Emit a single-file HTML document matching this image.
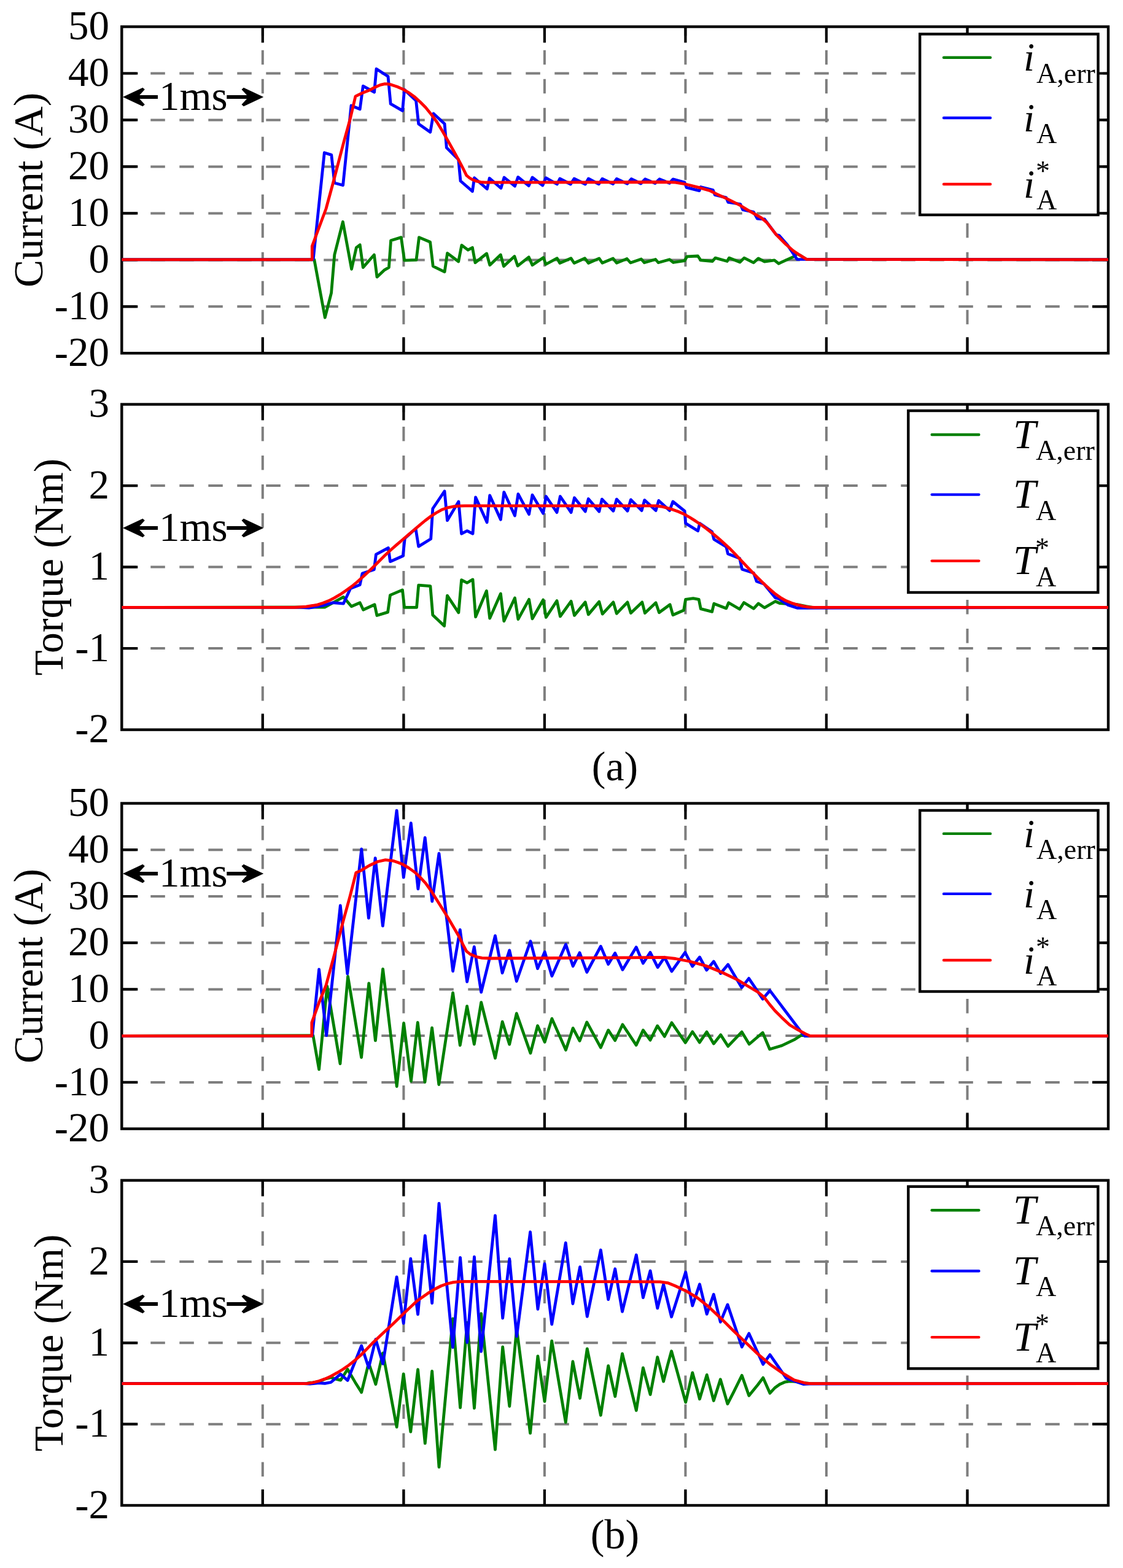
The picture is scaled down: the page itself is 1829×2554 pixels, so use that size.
<!DOCTYPE html><html><head><meta charset="utf-8"><title>Current and torque waveforms</title><style>html,body{margin:0;padding:0;background:#fff;}svg{display:block;}text{font-family:"Liberation Serif", "Times New Roman", serif;}</style></head><body>
<svg xmlns="http://www.w3.org/2000/svg" width="1829" height="2554" viewBox="0 0 1829 2554">
<rect x="0" y="0" width="1829" height="2554" fill="#fff"/>
<path d="M198.3 119.5H1805M198.3 195.4H1805M198.3 271.4H1805M198.3 347.4H1805M198.3 423.4H1805M198.3 499.3H1805" stroke="#7e7e7e" stroke-width="4.0" stroke-dasharray="23.5 23.5" fill="none"/>
<path d="M427.8 575.3V43.5M657.4 575.3V43.5M886.9 575.3V43.5M1116.4 575.3V43.5M1345.9 575.3V43.5M1575.5 575.3V43.5" stroke="#7e7e7e" stroke-width="4.0" stroke-dasharray="23.5 23.5" fill="none"/>
<path d="M198.3 119.5h26M1805 119.5h-26M198.3 195.4h26M1805 195.4h-26M198.3 271.4h26M1805 271.4h-26M198.3 347.4h26M1805 347.4h-26M198.3 423.4h26M1805 423.4h-26M198.3 499.3h26M1805 499.3h-26M427.8 43.5v26M427.8 575.3v-26M657.4 43.5v26M657.4 575.3v-26M886.9 43.5v26M886.9 575.3v-26M1116.4 43.5v26M1116.4 575.3v-26M1345.9 43.5v26M1345.9 575.3v-26M1575.5 43.5v26M1575.5 575.3v-26" stroke="#000" stroke-width="4.2" fill="none"/>
<rect x="198.3" y="43.5" width="1606.7" height="531.8" fill="none" stroke="#000" stroke-width="4.4"/>
<polyline points="198.3,422.8 511.8,422.8 529.3,517.2 539.6,477.1 544.8,415 558.4,361.3 572.6,438.3 580.3,403.4 586.2,398.8 591.3,435.7 609.4,415 614,451.2 625.6,440.2 633.4,435.7 636.6,391.7 653.4,386.6 658.6,424.1 678,423.4 682.5,386.6 700.6,394.3 705.3,433.7 724.1,442.8 728.6,412.4 746.7,426 751.9,399.4 762.2,407.2 769.4,403.3 773.9,427.9 792.6,413 797.8,431.8 815.3,415 820.4,433.7 837.9,417.5 843.1,433.1 861.2,418.8 867,431.8 885.1,419.5 889,430.5 907.3,420.7 911.8,428.5 929.9,420.7 935.1,428.5 952.5,420.7 958.4,428.5 975.8,420.9 981,428.3 998.5,421 1004.3,428.2 1021.1,421.5 1026.9,428 1044.4,422 1049.5,427.8 1067.6,422.5 1072.2,427.8 1090.3,422.7 1096.7,427.5 1115,424.7 1118.9,417.8 1136.6,417 1141.2,423.9 1160.4,425.5 1165,420.1 1184.3,425.5 1187.4,420.1 1205.1,427 1212,420.1 1227.4,427.8 1235.1,420.9 1245.1,426.2 1261.3,423.9 1268.2,429.3 1292,418.4 1298.2,413.3 1305,416.9 1313.6,422.6 1805,422.8" fill="none" stroke="#008000" stroke-width="4.8" stroke-linejoin="round"/>
<polyline points="198.3,422.8 509.5,422.8 510.3,421.5 528.3,248.7 539.8,252.4 544.8,298 558.6,301.7 572,172 586.2,177.8 591.3,140.2 609.6,150.2 613,112.2 632,124.5 636.2,169.2 655.6,180.4 658.6,146 677.6,164 681.7,201.8 700.8,215.2 706,184.9 724.1,201.7 727.3,240.5 746.7,259.9 750,294.8 769.4,311.6 772.6,289.7 793.3,307.8 797.2,290.3 815.9,306.5 821.1,289 838.5,303.2 843.7,288.4 861.2,302.6 867,289 883.8,302 889,289.7 907.3,300 911.8,291 929.3,300 935.1,291 953.2,300 958.4,291 975.2,299.8 981,291.2 998.4,299.6 1004.3,291.3 1021.7,299.3 1028.2,291.5 1043.7,299 1050.8,291.6 1067,298.6 1074.1,291.8 1090.3,298.3 1096.1,291.8 1115,297 1118.1,305.4 1138.9,310.6 1141.2,304.5 1161.2,309.5 1164.3,317.3 1182.7,321.8 1185.8,329.3 1205.8,332.5 1209.7,341.6 1227.4,345.4 1233.5,356.2 1245.1,357 1264.3,382.4 1269,383.5 1282.8,399.3 1298.2,422.4 1805,422.8" fill="none" stroke="#0000ff" stroke-width="4.8" stroke-linejoin="round"/>
<polyline points="198.3,422.8 508.3,422.8 508.3,401 531,340 543,296 560,231 570,195 579,156.8 590,151.5 600.8,147.3 610,142.5 619.3,138.4 626.7,136.6 632,136.8 637.8,138.2 647,141.3 656.3,145.4 665.5,150.8 674.7,157.4 684,165.7 693.2,175 702.5,186.5 711.7,199 721,214.3 730.2,230.4 739.4,247 748.6,263.7 754,274 759.7,285.6 765,290 770,292.8 776.3,295.2 783,296.6 790,297.2 800,297.2 1000,296.8 1085,296.5 1100,297.2 1116.6,300 1138.1,305.4 1156.6,310.8 1167.4,316.2 1184.3,323.9 1205.8,334.7 1218.2,342.4 1239.7,354.7 1248.9,362.4 1264.3,382.4 1279.7,397.8 1292,408.5 1301.3,414.7 1313.6,422.4 1805,422.8" fill="none" stroke="#ff0000" stroke-width="4.8" stroke-linejoin="round"/>
<text x="178" y="64.2" font-size="67" text-anchor="end">50</text>
<text x="178" y="140.2" font-size="67" text-anchor="end">40</text>
<text x="178" y="216.1" font-size="67" text-anchor="end">30</text>
<text x="178" y="292.1" font-size="67" text-anchor="end">20</text>
<text x="178" y="368.1" font-size="67" text-anchor="end">10</text>
<text x="178" y="444.1" font-size="67" text-anchor="end">0</text>
<text x="178" y="520" font-size="67" text-anchor="end">-10</text>
<text x="178" y="596" font-size="67" text-anchor="end">-20</text>
<text x="0" y="0" font-size="67.6" text-anchor="middle" transform="translate(68.8 309.4) rotate(-90)">Current (A)</text>
<path d="M200 158 L232.5 142.8 L235.8 145.7 L227.3 155.1 L257 155.1 L257 160.9 L227.3 160.9 L235.8 170.3 L232.5 173.2 Z" fill="#000"/>
<path d="M429.3 158 L396.8 142.8 L393.5 145.7 L402 155.1 L369.3 155.1 L369.3 160.9 L402 160.9 L393.5 170.3 L396.8 173.2 Z" fill="#000"/>
<text x="259" y="179" font-size="67">1ms</text>
<rect x="1498.2" y="55.5" width="290.3" height="294.5" fill="#fff" stroke="#000" stroke-width="4.4"/>
<line x1="1537" y1="93.7" x2="1613" y2="93.7" stroke="#008000" stroke-width="4.4" stroke-linecap="round"/>
<text x="1667" y="115.3" font-size="65" font-style="italic">i</text>
<text x="1688" y="134.7" font-size="46">A,err</text>
<line x1="1537" y1="192" x2="1613" y2="192" stroke="#0000ff" stroke-width="4.4" stroke-linecap="round"/>
<text x="1667" y="213.6" font-size="65" font-style="italic">i</text>
<text x="1688" y="233" font-size="46">A</text>
<line x1="1537" y1="300" x2="1613" y2="300" stroke="#ff0000" stroke-width="4.4" stroke-linecap="round"/>
<text x="1667" y="321.6" font-size="65" font-style="italic">i</text>
<text x="1688" y="341" font-size="46">A</text>
<text x="1687" y="294.1" font-size="46">*</text>
<path d="M198.3 791.1H1805M198.3 923.6H1805M198.3 1056.1H1805" stroke="#7e7e7e" stroke-width="4.0" stroke-dasharray="23.5 23.5" fill="none"/>
<path d="M427.8 1188.6V658.6M657.4 1188.6V658.6M886.9 1188.6V658.6M1116.4 1188.6V658.6M1345.9 1188.6V658.6M1575.5 1188.6V658.6" stroke="#7e7e7e" stroke-width="4.0" stroke-dasharray="23.5 23.5" fill="none"/>
<path d="M198.3 791.1h26M1805 791.1h-26M198.3 923.6h26M1805 923.6h-26M198.3 1056.1h26M1805 1056.1h-26M427.8 658.6v26M427.8 1188.6v-26M657.4 658.6v26M657.4 1188.6v-26M886.9 658.6v26M886.9 1188.6v-26M1116.4 658.6v26M1116.4 1188.6v-26M1345.9 658.6v26M1345.9 1188.6v-26M1575.5 658.6v26M1575.5 1188.6v-26" stroke="#000" stroke-width="4.2" fill="none"/>
<rect x="198.3" y="658.6" width="1606.7" height="530" fill="none" stroke="#000" stroke-width="4.4"/>
<polyline points="198.3,989.4 529.3,989 559.3,972.4 572.4,987.8 586.2,981.7 591.6,993.2 610.1,984.8 613.9,1002.5 631.6,997.1 635.5,969.4 655.5,960.9 658.6,989.4 678.6,989.4 681.7,953.2 700.9,954.7 704.8,1001.7 723.6,1019.5 728.5,970.1 746.9,997.8 751.6,944.7 760.8,949.3 770,943.9 774.6,1004.8 792.4,962.4 797.7,1007.1 815.4,967 820.8,1011.7 838.5,974 843.9,1008.6 861.6,976.3 867,1007.8 884.7,977 889.3,1005.5 907,978.6 912.4,1004 930.1,979.4 935.5,1002.4 953.2,980.9 958.3,1000.9 975.8,980.1 981.2,1000.1 998.9,980.9 1004.3,999.4 1022,980.9 1027.4,998.6 1045.8,980.9 1050.4,998.6 1068.1,981.7 1073.5,997.8 1091.2,984.8 1095.9,1001.7 1113.6,994 1116.6,976.3 1129,974.7 1138.2,976.3 1141.3,991.7 1159.7,996.3 1162.8,983.2 1182.8,990.9 1186.7,981.7 1204.7,992.3 1211.6,981.5 1227.4,991.3 1235.2,983 1245.1,989.9 1262.8,979.5 1269.7,982.5 1283.5,983.5 1298.3,984.6 1313,987.6 1323,989.4 1805,989.4" fill="none" stroke="#008000" stroke-width="4.8" stroke-linejoin="round"/>
<polyline points="198.3,989.4 490,989.4 503.1,990.1 526.2,986.3 541.6,981.7 559.3,983.2 570.8,958.6 586.2,952.4 590.1,934 609.3,927.8 612.4,903.2 632.4,892.4 635.5,914.7 656.3,905.5 659.3,877 677,861 681.7,890.1 701.7,877.8 704.8,828.5 724,800 728.5,847.7 746.9,817 751.6,869.3 760.8,864.7 770,869.3 774.6,810 793.1,850.8 797.7,806.9 815.4,846.2 820.8,801.6 838.5,840 843.9,804.6 861.6,837.7 867,806.2 884.7,836.2 889.3,808.5 907,834.6 912.4,808.5 930.1,834.6 935.5,810.8 953.2,833.1 958.3,812.5 975.8,833.1 980.4,813.1 998.9,832.3 1004.3,813.1 1022,832.3 1027.4,813.9 1045.1,831.6 1049.7,814.6 1068.1,831.6 1072.8,815.4 1090.5,831.6 1095.9,817 1115.1,832.3 1116.6,852.4 1136.7,864.7 1139.7,852.4 1159.7,866.2 1162.8,878.5 1182.8,890.8 1185.5,902 1204.7,909.6 1208.6,927.3 1227.4,933.2 1232.3,947 1244.1,950.9 1262.8,973.6 1268.7,975.6 1283.5,985.4 1298.3,990.3 1313.1,990.3 1805,989.4" fill="none" stroke="#0000ff" stroke-width="4.8" stroke-linejoin="round"/>
<polyline points="198.3,989.4 480,989.4 498.5,988.2 517,985.1 526,982.3 535.4,978.6 544.6,973.9 553.9,968.4 563,962.3 572.4,955.5 581.6,948 590.8,939.8 600,931.2 609.3,922.3 618.5,913 627.8,903.8 637,895.3 646.3,887.1 655.5,879.2 664.7,871.4 674,863.5 683.2,855.7 692.4,848 701.7,841 711,835 720.2,829.9 729.4,826.8 738.6,825 748,824.1 757.1,823.8 1068,823.8 1077,825 1086,827.2 1095.4,829.9 1104.6,833.3 1113.9,837.3 1123,842.5 1132.4,848.4 1141.6,854.6 1150.8,861.3 1160,868.5 1169.3,876.1 1178.5,884.2 1187.8,892.7 1197,902.2 1206.3,912.1 1215.5,921.9 1224.7,931.5 1234,940.9 1243.2,950 1252.4,958.6 1261.7,966.6 1271,973.2 1280.2,978.6 1289.4,982.3 1298.6,985.1 1308,987.3 1317.1,988.8 1326,989.4 1805,989.4" fill="none" stroke="#ff0000" stroke-width="4.8" stroke-linejoin="round"/>
<text x="178" y="679.3" font-size="67" text-anchor="end">3</text>
<text x="178" y="811.8" font-size="67" text-anchor="end">2</text>
<text x="178" y="944.3" font-size="67" text-anchor="end">1</text>
<text x="178" y="1076.8" font-size="67" text-anchor="end">-1</text>
<text x="178" y="1209.3" font-size="67" text-anchor="end">-2</text>
<text x="0" y="0" font-size="67.6" text-anchor="middle" transform="translate(102 923.6) rotate(-90)">Torque (Nm)</text>
<path d="M200 860 L232.5 844.8 L235.8 847.7 L227.3 857.1 L257 857.1 L257 862.9 L227.3 862.9 L235.8 872.3 L232.5 875.2 Z" fill="#000"/>
<path d="M429.3 860 L396.8 844.8 L393.5 847.7 L402 857.1 L369.3 857.1 L369.3 862.9 L402 862.9 L393.5 872.3 L396.8 875.2 Z" fill="#000"/>
<text x="259" y="881" font-size="67">1ms</text>
<rect x="1479.3" y="669" width="309" height="296" fill="#fff" stroke="#000" stroke-width="4.4"/>
<line x1="1517.7" y1="708" x2="1594.3" y2="708" stroke="#008000" stroke-width="4.4" stroke-linecap="round"/>
<text x="1650" y="729.6" font-size="67" font-style="italic">T</text>
<text x="1687" y="749" font-size="46">A,err</text>
<line x1="1517.7" y1="805.6" x2="1594.3" y2="805.6" stroke="#0000ff" stroke-width="4.4" stroke-linecap="round"/>
<text x="1650" y="827.2" font-size="67" font-style="italic">T</text>
<text x="1687" y="846.6" font-size="46">A</text>
<line x1="1517.7" y1="913.6" x2="1594.3" y2="913.6" stroke="#ff0000" stroke-width="4.4" stroke-linecap="round"/>
<text x="1650" y="935.2" font-size="67" font-style="italic">T</text>
<text x="1687" y="954.6" font-size="46">A</text>
<text x="1686" y="907.7" font-size="46">*</text>
<path d="M198.3 1384.2H1805M198.3 1460H1805M198.3 1535.7H1805M198.3 1611.4H1805M198.3 1687.1H1805M198.3 1762.9H1805" stroke="#7e7e7e" stroke-width="4.0" stroke-dasharray="23.5 23.5" fill="none"/>
<path d="M427.8 1838.6V1308.5M657.4 1838.6V1308.5M886.9 1838.6V1308.5M1116.4 1838.6V1308.5M1345.9 1838.6V1308.5M1575.5 1838.6V1308.5" stroke="#7e7e7e" stroke-width="4.0" stroke-dasharray="23.5 23.5" fill="none"/>
<path d="M198.3 1384.2h26M1805 1384.2h-26M198.3 1460h26M1805 1460h-26M198.3 1535.7h26M1805 1535.7h-26M198.3 1611.4h26M1805 1611.4h-26M198.3 1687.1h26M1805 1687.1h-26M198.3 1762.9h26M1805 1762.9h-26M427.8 1308.5v26M427.8 1838.6v-26M657.4 1308.5v26M657.4 1838.6v-26M886.9 1308.5v26M886.9 1838.6v-26M1116.4 1308.5v26M1116.4 1838.6v-26M1345.9 1308.5v26M1345.9 1838.6v-26M1575.5 1308.5v26M1575.5 1838.6v-26" stroke="#000" stroke-width="4.2" fill="none"/>
<rect x="198.3" y="1308.5" width="1606.7" height="530.1" fill="none" stroke="#000" stroke-width="4.4"/>
<polyline points="198.3,1687.3 509.9,1686.7 519.6,1741.8 532.8,1606.5 554,1732.6 566.6,1590.4 588.6,1722.3 600.8,1601.6 611.4,1694.9 623.6,1578.3 646.2,1769.5 657.6,1666.5 669.5,1761 680.3,1665.5 692,1762.5 703.6,1674.1 714.8,1766.5 737.6,1617.2 749.3,1702.7 760.6,1638.9 772.3,1700.8 783.7,1632.6 806.5,1723.5 818.2,1664.2 829.7,1701.1 841.3,1650.7 864,1715.4 875.6,1670.7 887.2,1697.2 898.9,1659.1 921.5,1710.2 933.2,1674.6 944.1,1695.3 955.8,1664.9 978.4,1706.3 990.7,1677.9 1001.7,1694.7 1014,1668.8 1036.2,1702.3 1047.4,1678 1059,1694.2 1070.7,1670.9 1082.3,1688.2 1094,1665.8 1116.3,1698.3 1127.8,1680.5 1139.4,1697.9 1151,1680.8 1162.4,1700 1173.8,1685.6 1185.8,1704.2 1208.1,1680.8 1220.2,1700.8 1242.2,1682 1253.6,1709 1273.3,1703.1 1294.8,1692.8 1306,1685.5 1311,1687.3 1805,1687.3" fill="none" stroke="#008000" stroke-width="4.8" stroke-linejoin="round"/>
<polyline points="198.3,1687.3 508.3,1687.3 508.8,1685.6 519.6,1579 531.7,1686.7 554.3,1475 565.8,1586.2 588.8,1382.9 600.4,1495.4 611.2,1397.6 623.4,1508.2 646.1,1320.1 657.3,1429.2 669.3,1340.7 680.9,1447.9 692.2,1364.3 703.8,1468.2 715,1390.2 737.6,1581.8 749.3,1514.4 760.7,1599.1 772.3,1542.2 783.7,1616.1 806.5,1524.2 818.1,1584.9 829.7,1547.9 841.3,1598.3 864,1533 875.6,1577.6 887.2,1550.5 898.9,1589.9 921.5,1538.2 933.2,1573.8 944.1,1551.8 955.8,1583.5 978.4,1541.4 990.7,1570.5 1001.7,1552.4 1014,1579.6 1036.2,1542.7 1047.4,1569 1059,1551.3 1071.2,1575.6 1082.3,1559.4 1094,1582.2 1115.8,1551.3 1127.7,1574 1139.5,1559 1150.8,1580.2 1162.4,1566 1173.6,1585.6 1185.7,1571 1208,1608.6 1219.6,1593.6 1242.2,1627.2 1253.9,1613.4 1303.4,1679 1310.3,1687.3 1805,1687.3" fill="none" stroke="#0000ff" stroke-width="4.8" stroke-linejoin="round"/>
<polyline points="198.3,1687.3 507.8,1687.3 507.8,1665.6 519.6,1633 531,1604.8 543,1560.8 560,1496.5 570,1460.1 579.8,1421.5 587.6,1418.1 601.6,1409.7 615,1403.5 627.8,1400.6 640,1402.1 648,1404.8 656.3,1408.1 665.5,1413.6 674.7,1420.1 684,1428.6 693.2,1438.6 702.5,1451.5 711.7,1466.3 721,1481 730.2,1495.8 739.4,1511.5 748.6,1527.2 754,1538.5 759.7,1549.4 766,1554.3 776.3,1558.6 785,1560.4 800,1561 1020,1559.8 1082.1,1559.4 1100.2,1561.5 1123.5,1566 1149.3,1573.1 1175.2,1583.5 1200,1595.3 1217.2,1605.7 1234.5,1616 1244.8,1624.7 1253.4,1635.9 1262.1,1646.2 1273.3,1657.4 1286.2,1669.5 1299.1,1677.2 1312.1,1684.1 1319,1687.3 1805,1687.3" fill="none" stroke="#ff0000" stroke-width="4.8" stroke-linejoin="round"/>
<text x="178" y="1329.2" font-size="67" text-anchor="end">50</text>
<text x="178" y="1404.9" font-size="67" text-anchor="end">40</text>
<text x="178" y="1480.7" font-size="67" text-anchor="end">30</text>
<text x="178" y="1556.4" font-size="67" text-anchor="end">20</text>
<text x="178" y="1632.1" font-size="67" text-anchor="end">10</text>
<text x="178" y="1707.8" font-size="67" text-anchor="end">0</text>
<text x="178" y="1783.6" font-size="67" text-anchor="end">-10</text>
<text x="178" y="1859.3" font-size="67" text-anchor="end">-20</text>
<text x="0" y="0" font-size="67.6" text-anchor="middle" transform="translate(68.8 1573.5) rotate(-90)">Current (A)</text>
<path d="M200 1423 L232.5 1407.8 L235.8 1410.7 L227.3 1420.1 L257 1420.1 L257 1425.9 L227.3 1425.9 L235.8 1435.3 L232.5 1438.2 Z" fill="#000"/>
<path d="M429.3 1423 L396.8 1407.8 L393.5 1410.7 L402 1420.1 L369.3 1420.1 L369.3 1425.9 L402 1425.9 L393.5 1435.3 L396.8 1438.2 Z" fill="#000"/>
<text x="259" y="1444" font-size="67">1ms</text>
<rect x="1498.2" y="1320" width="290.3" height="295" fill="#fff" stroke="#000" stroke-width="4.4"/>
<line x1="1537" y1="1357.9" x2="1613" y2="1357.9" stroke="#008000" stroke-width="4.4" stroke-linecap="round"/>
<text x="1667" y="1379.5" font-size="65" font-style="italic">i</text>
<text x="1688" y="1398.9" font-size="46">A,err</text>
<line x1="1537" y1="1455.9" x2="1613" y2="1455.9" stroke="#0000ff" stroke-width="4.4" stroke-linecap="round"/>
<text x="1667" y="1477.5" font-size="65" font-style="italic">i</text>
<text x="1688" y="1496.9" font-size="46">A</text>
<line x1="1537" y1="1564" x2="1613" y2="1564" stroke="#ff0000" stroke-width="4.4" stroke-linecap="round"/>
<text x="1667" y="1585.6" font-size="65" font-style="italic">i</text>
<text x="1688" y="1605" font-size="46">A</text>
<text x="1687" y="1558.1" font-size="46">*</text>
<path d="M198.3 2054.9H1805M198.3 2187.3H1805M198.3 2319.7H1805" stroke="#7e7e7e" stroke-width="4.0" stroke-dasharray="23.5 23.5" fill="none"/>
<path d="M427.8 2452V1922.6M657.4 2452V1922.6M886.9 2452V1922.6M1116.4 2452V1922.6M1345.9 2452V1922.6M1575.5 2452V1922.6" stroke="#7e7e7e" stroke-width="4.0" stroke-dasharray="23.5 23.5" fill="none"/>
<path d="M198.3 2054.9h26M1805 2054.9h-26M198.3 2187.3h26M1805 2187.3h-26M198.3 2319.7h26M1805 2319.7h-26M427.8 1922.6v26M427.8 2452v-26M657.4 1922.6v26M657.4 2452v-26M886.9 1922.6v26M886.9 2452v-26M1116.4 1922.6v26M1116.4 2452v-26M1345.9 1922.6v26M1345.9 2452v-26M1575.5 1922.6v26M1575.5 2452v-26" stroke="#000" stroke-width="4.2" fill="none"/>
<rect x="198.3" y="1922.6" width="1606.7" height="529.4" fill="none" stroke="#000" stroke-width="4.4"/>
<polyline points="198.3,2253.6 495,2253.6 499.6,2253.3 504.5,2252.2 509.4,2252 519.3,2250.6 529.1,2246.3 539,2243.7 548.8,2246.6 554.7,2248.1 558.7,2242.1 566.1,2230.2 568.5,2234.5 578.4,2251.4 588.2,2267.1 588.7,2267.9 598.1,2229.7 600.5,2219.9 607.9,2242.3 611.9,2254.7 620,2219.5 623.6,2203.9 639.7,2290.3 646.1,2324.4 657.2,2237.8 659.4,2255.7 668.8,2332.2 679.1,2243.3 680.6,2230.7 692.3,2350.9 698.8,2283.5 703.7,2233.3 708.6,2300.9 715,2389.7 718.5,2351.5 728.3,2245.9 737.5,2147.9 738.2,2156.2 748,2273.6 749.6,2292.9 757.9,2190.2 760.8,2154.4 772.5,2293.7 783.6,2139.6 806.5,2361.2 818.7,2193.9 829.8,2290.6 841.5,2164.3 863.6,2334.4 875.9,2208.8 887,2282.7 898.7,2184.1 921.3,2316.8 932.9,2217.7 944.6,2277.5 956.3,2196.8 978.4,2305.2 990.7,2224.6 1001.8,2274.5 1013.5,2204.9 1036.3,2297.3 1047.4,2227.8 1059.1,2271.5 1070.8,2210.5 1075,2227.1 1080.6,2250.1 1087.4,2223.4 1093.6,2200.7 1099.7,2222.4 1116.7,2284.1 1117.3,2281.4 1127.8,2235.9 1135.8,2264.7 1139.5,2278.8 1151.2,2239.4 1154.3,2250.9 1162.3,2281.5 1172.7,2248.7 1173.3,2246.8 1185,2286.7 1194.9,2267.3 1208.3,2240.3 1214.6,2258.4 1219.8,2273.3 1234.3,2255.5 1242.8,2244.1 1254,2269.2 1262,2260.5 1270,2254.8 1278,2251.2 1286,2249.8 1295,2250.3 1305,2251.8 1318,2253.3 1325,2253.6 1805,2253.6" fill="none" stroke="#008000" stroke-width="4.8" stroke-linejoin="round"/>
<polyline points="198.3,2253.6 495,2253.6 504.5,2254.2 519.3,2252.5 529.1,2253.4 539,2251.5 554.7,2238.2 566.1,2248.5 588.7,2191.9 600.5,2227.8 611.9,2181.5 623.6,2221.4 646.1,2079.8 657.2,2155.5 668.8,2050.2 680.6,2140.9 692.3,2012.6 703.7,2122.7 715,1960.2 737.5,2194.5 749.6,2048.3 760.8,2186.5 772.5,2047.2 783.6,2201.3 806.5,1979.8 818.7,2147.1 829.8,2050.4 841.5,2176.7 863.6,2006.7 875.9,2132.3 887,2058.4 898.7,2157 921.3,2024.4 932.9,2123.5 944.6,2063.7 956.3,2144.4 978.4,2036 990.7,2116.7 1001.8,2066.8 1013.5,2136.4 1036.3,2044 1047.4,2113.6 1059.1,2069.9 1070.8,2130.9 1080.6,2092.1 1093.6,2145 1116.7,2072 1127.8,2126.8 1139.5,2091.7 1151.2,2140.4 1162.3,2108.3 1173.3,2153.3 1185,2125 1208.3,2194 1219.8,2172 1242.8,2222.2 1254,2206.6 1280.6,2244.9 1308.2,2254.5 1318.1,2254.2 1805,2253.6" fill="none" stroke="#0000ff" stroke-width="4.8" stroke-linejoin="round"/>
<polyline points="198.3,2253.6 499.6,2253.6 509.4,2252 519.3,2249.5 529.1,2246.1 539,2241.6 548.8,2236.2 558.7,2230.3 568.5,2223.4 578.4,2215.5 588.2,2206.7 598.1,2196.6 607.9,2186.4 620,2175 639.7,2156.8 659.4,2137.6 679.1,2119.1 698.8,2105.3 708.6,2099.5 718.5,2094.5 728.3,2091 738.2,2088.6 748,2087.6 757.9,2087.3 1075,2087.8 1087.4,2089.6 1099.7,2094.5 1117.3,2102.8 1135.8,2113.9 1154.3,2128.7 1172.7,2145.9 1194.9,2168 1214.6,2186.7 1234.3,2205.5 1254,2222.2 1273.7,2236 1293.4,2247.8 1313.2,2253.2 1321,2253.6 1805,2253.6" fill="none" stroke="#ff0000" stroke-width="4.8" stroke-linejoin="round"/>
<text x="178" y="1943.3" font-size="67" text-anchor="end">3</text>
<text x="178" y="2075.6" font-size="67" text-anchor="end">2</text>
<text x="178" y="2208" font-size="67" text-anchor="end">1</text>
<text x="178" y="2340.3" font-size="67" text-anchor="end">-1</text>
<text x="178" y="2472.7" font-size="67" text-anchor="end">-2</text>
<text x="0" y="0" font-size="67.6" text-anchor="middle" transform="translate(102 2187.3) rotate(-90)">Torque (Nm)</text>
<path d="M200 2124 L232.5 2108.8 L235.8 2111.7 L227.3 2121.1 L257 2121.1 L257 2126.9 L227.3 2126.9 L235.8 2136.3 L232.5 2139.2 Z" fill="#000"/>
<path d="M429.3 2124 L396.8 2108.8 L393.5 2111.7 L402 2121.1 L369.3 2121.1 L369.3 2126.9 L402 2126.9 L393.5 2136.3 L396.8 2139.2 Z" fill="#000"/>
<text x="259" y="2145" font-size="67">1ms</text>
<rect x="1479.3" y="1932.7" width="309" height="296.5" fill="#fff" stroke="#000" stroke-width="4.4"/>
<line x1="1517.7" y1="1971.3" x2="1594.3" y2="1971.3" stroke="#008000" stroke-width="4.4" stroke-linecap="round"/>
<text x="1650" y="1992.9" font-size="67" font-style="italic">T</text>
<text x="1687" y="2012.3" font-size="46">A,err</text>
<line x1="1517.7" y1="2070.2" x2="1594.3" y2="2070.2" stroke="#0000ff" stroke-width="4.4" stroke-linecap="round"/>
<text x="1650" y="2091.8" font-size="67" font-style="italic">T</text>
<text x="1687" y="2111.2" font-size="46">A</text>
<line x1="1517.7" y1="2178.1" x2="1594.3" y2="2178.1" stroke="#ff0000" stroke-width="4.4" stroke-linecap="round"/>
<text x="1650" y="2199.7" font-size="67" font-style="italic">T</text>
<text x="1687" y="2219.1" font-size="46">A</text>
<text x="1686" y="2172.2" font-size="46">*</text>
<text x="1001.5" y="1271.2" font-size="68" text-anchor="middle">(a)</text>
<text x="1001.5" y="2521.5" font-size="68" text-anchor="middle">(b)</text>
</svg></body></html>
